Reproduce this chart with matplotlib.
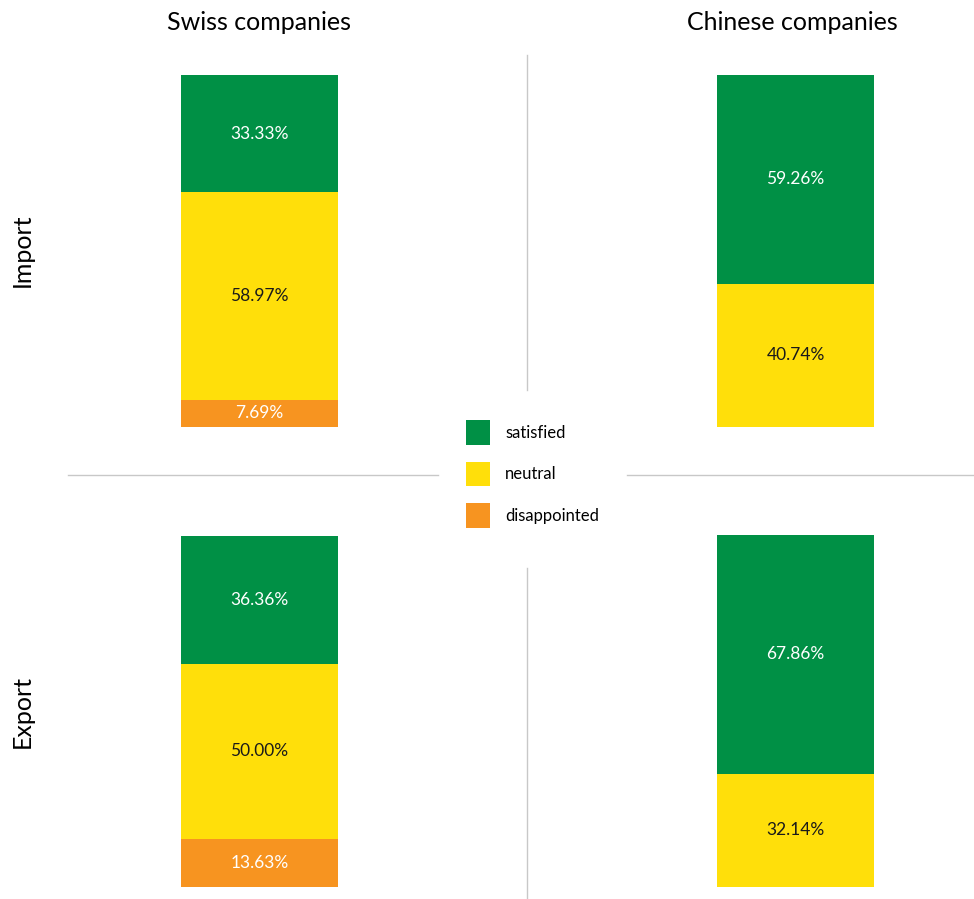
import matplotlib
matplotlib.use("Agg")
import matplotlib.pyplot as plt
from matplotlib.patches import Patch
from matplotlib.lines import Line2D

plt.rcParams['font.family'] = ['Lato', 'DejaVu Sans']

# Survey results (share of respondents, %)
categories = ["satisfied", "neutral", "disappointed"]
columns = ["Swiss companies", "Chinese companies"]
rows = ["Import", "Export"]
swiss_import = [33.33, 58.97, 7.69]
chinese_import = [59.26, 40.74, 0.0]
swiss_export = [36.36, 50.00, 13.63]
chinese_export = [67.86, 32.14, 0.0]

colors = {"satisfied": "#009045", "neutral": "#FFDF0A", "disappointed": "#F79420"}
text_colors = {"satisfied": "white", "neutral": "#1a1a1a", "disappointed": "white"}

W, H = 974, 899
fig = plt.figure(figsize=(W / 100, H / 100), dpi=100)


def px_rect(x0, y0, x1, y1):
    return [x0 / W, 1 - y1 / H, (x1 - x0) / W, (y1 - y0) / H]


panels = [
    (swiss_import, (181, 75, 338, 427)),
    (chinese_import, (717, 75, 874, 427)),
    (swiss_export, (181, 536, 338, 887)),
    (chinese_export, (717, 535, 874, 887)),
]

for values, rect in panels:
    ax = fig.add_axes(px_rect(*rect))
    bottom = 0.0
    # stack from the bottom: disappointed, neutral, satisfied
    for cat, val in reversed(list(zip(categories, values))):
        if val <= 0:
            continue
        ax.bar(0, val, width=1.0, bottom=bottom, color=colors[cat], linewidth=0)
        ax.text(0, bottom + val / 2, f"{val:.2f}%", ha="center", va="center",
                color=text_colors[cat], fontsize=12.5)
        bottom += val
    ax.set_xlim(-0.5, 0.5)
    ax.set_ylim(0, sum(values))
    ax.axis("off")

# column and row headings
fig.text(259 / W, 1 - 22 / H, columns[0], ha="center", va="center", fontsize=18)
fig.text(792 / W, 1 - 22 / H, columns[1], ha="center", va="center", fontsize=18)
fig.text(22 / W, 1 - 250 / H, rows[0], ha="center", va="center", fontsize=18, rotation=90)
fig.text(22 / W, 1 - 712 / H, rows[1], ha="center", va="center", fontsize=18, rotation=90)

# divider lines
line_kw = dict(color="#c8c8c8", linewidth=1.0)
fig.add_artist(Line2D([527 / W, 527 / W], [1 - 55 / H, 1 - 390 / H], **line_kw))
fig.add_artist(Line2D([527 / W, 527 / W], [1 - 568 / H, 1 - 899 / H], **line_kw))
fig.add_artist(Line2D([68 / W, 438 / W], [1 - 475 / H, 1 - 475 / H], **line_kw))
fig.add_artist(Line2D([627 / W, 974 / W], [1 - 475 / H, 1 - 475 / H], **line_kw))

handles = [Patch(facecolor=colors[c], edgecolor="none", label=c) for c in categories]
fig.legend(handles=handles, loc="center left", bbox_to_anchor=(466 / W, 1 - 474 / H),
           frameon=False, fontsize=12, handlelength=1.45, handleheight=1.9,
           labelspacing=1.0, handletextpad=0.9, borderaxespad=0, borderpad=0)

fig.savefig("out.png", dpi=100, facecolor="white")
